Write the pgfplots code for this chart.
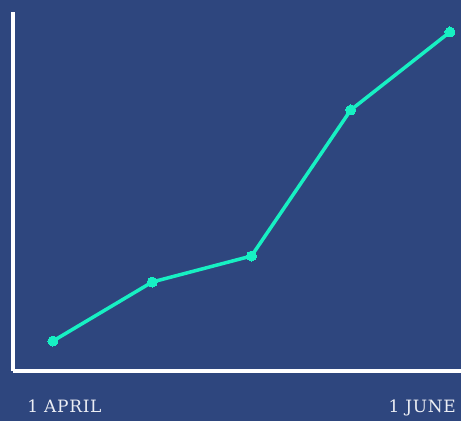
\documentclass[border=0pt]{standalone}
\usepackage{fontspec}
\setmainfont{DejaVu Serif}[LetterSpace=4]
\usepackage{pgfplots}
\pgfplotsset{compat=1.18}
\definecolor{bg}{HTML}{2E467E}
\definecolor{linec}{HTML}{17F0C3}
\definecolor{lbl}{HTML}{ECEEF4}
\begin{document}
\begin{tikzpicture}[x=1pt,y=1pt]
\path[use as bounding box] (0,0) rectangle (461,421);
\clip (0,0) rectangle (461,421);
\fill[bg] (0,0) rectangle (461,421);
\begin{axis}[
  at={(13pt,50pt)}, anchor=south west,
  scale only axis, width=448pt, height=359pt,
  xmin=-0.403, xmax=4.111, ymin=0, ymax=359,
  axis x line=bottom, axis y line=left,
  axis line style={-, white, line width=3.5pt},
  xtick={0.115,3.72}, xticklabels={1 APRIL,1 JUNE},
  ytick=\empty,
  major tick length=0pt,
  xticklabel style={lbl, font=\fontsize{17}{18}\selectfont, anchor=base, yshift=-41pt},
  clip=false,
]
\addplot[linec, line width=3.5pt, mark=*, mark size=5pt, mark options={fill=linec, draw=linec, line width=0pt}] coordinates {
  (0,30) (1,89) (2,115) (3,261) (4,339)
};
\end{axis}
\end{tikzpicture}
\end{document}
